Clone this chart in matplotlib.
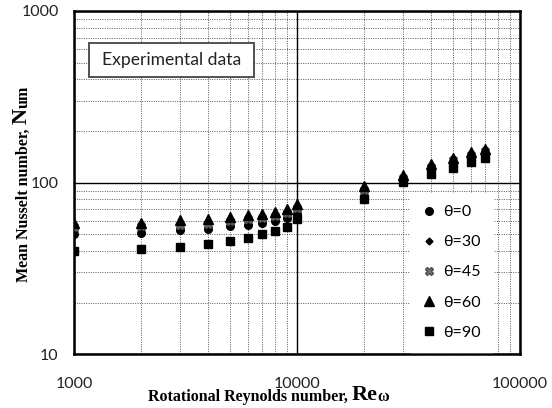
import matplotlib
matplotlib.use('Agg')
import matplotlib.pyplot as plt
from matplotlib.patches import Rectangle
from matplotlib.ticker import FixedLocator, FixedFormatter, NullFormatter, LogLocator

# --- data ---
re_omega = [1000, 2000, 3000, 4000, 5000, 6000, 7000, 8000, 9000, 10000,
            20000, 30000, 40000, 50000, 60000, 70000]
nu_theta0 = [50, 50.8, 53, 53.5, 56, 57, 58, 60, 62, 66, 83, 103, 118, 130, 140, 148]
nu_theta30 = [52, 53, 55, 55.5, 58, 59, 60, 62, 64.5, 68, 86, 104, 120, 132, 142, 150]
nu_theta45 = [55, 56, 57, 57.5, 60, 61, 62.5, 64, 67, 71, 90.5, 106, 123, 135, 145, 153]
nu_theta60 = [58, 58.5, 60.5, 61, 63.5, 64.5, 66, 67.5, 70.5, 75, 95, 111, 128, 140, 150, 157]
nu_theta90 = [40, 41.2, 42.3, 44, 45.6, 47.5, 50, 52, 55, 61.5, 80, 101, 112, 121, 132.5, 140]

x_ticks = [1000, 10000, 100000]
x_labels = ['1000', '10000', '100000']
y_ticks = [10, 100, 1000]
y_labels = ['10', '100', '1000']

sans = 'Lato'
serif = 'Liberation Serif'

fig = plt.figure(figsize=(5.52, 4.08), dpi=100)
ax = fig.add_axes([74 / 552, 1 - 354.3 / 408, 446 / 552, 343.3 / 408])
ax.set_xscale('log')
ax.set_yscale('log')
ax.set_xlim(1000, 100000)
ax.set_ylim(10, 1000)

# grid: solid at decades, dotted in between
ax.xaxis.set_major_locator(FixedLocator(x_ticks))
ax.yaxis.set_major_locator(FixedLocator(y_ticks))
ax.xaxis.set_minor_locator(LogLocator(base=10, subs=range(2, 10)))
ax.yaxis.set_minor_locator(LogLocator(base=10, subs=range(2, 10)))
ax.xaxis.set_major_formatter(FixedFormatter(x_labels))
ax.yaxis.set_major_formatter(FixedFormatter(y_labels))
ax.xaxis.set_minor_formatter(NullFormatter())
ax.yaxis.set_minor_formatter(NullFormatter())
ax.grid(True, which='major', color='black', linewidth=1.0, linestyle='-')
ax.grid(True, which='minor', color='#444444', linewidth=0.6, linestyle=(0, (1.2, 1.6)))
ax.set_axisbelow(True)
ax.tick_params(which='both', length=0)
ax.tick_params(axis='x', pad=16, labelsize=11.5, labelcolor='#222222')
ax.tick_params(axis='y', pad=11, labelsize=11.5, labelcolor='#222222')
for lab in ax.get_xticklabels() + ax.get_yticklabels():
    lab.set_fontfamily(sans)
for sp in ax.spines.values():
    sp.set_linewidth(1.8)
    sp.set_color('black')

ax.plot(re_omega, nu_theta0, 'o', color='black', ms=5.5, label='θ=0', zorder=3)
ax.plot(re_omega, nu_theta30, 'D', color='black', ms=3.5, label='θ=30', zorder=3)
ax.plot(re_omega, nu_theta45, 'X', color='#707070', mec='#505050', ms=6, label='θ=45', zorder=3)
ax.plot(re_omega, nu_theta60, '^', color='black', ms=6.5, label='θ=60', zorder=3)
ax.plot(re_omega, nu_theta90, 's', color='black', ms=5.5, label='θ=90', zorder=3)

leg = ax.legend(loc='upper left', bbox_to_anchor=(410 / 552, 1 - 193 / 408),
                bbox_transform=fig.transFigure, frameon=True, fancybox=False,
                facecolor='white', edgecolor='white', framealpha=1,
                prop={'family': sans, 'size': 11.5}, labelspacing=1.0,
                handlelength=0.9, handletextpad=0.45, borderpad=0.75,
                borderaxespad=0)
leg.set_zorder(5)

# "Experimental data" box
fig.add_artist(Rectangle((89 / 552, 1 - 77 / 408), 165 / 552, 34 / 408,
                         transform=fig.transFigure, facecolor='white',
                         edgecolor='#444444', linewidth=1.3, zorder=6))
fig.text(171.5 / 552, 1 - 60 / 408, 'Experimental data', ha='center', va='center',
         fontsize=12.6, family=sans, color='#222222', zorder=7)

# axis labels in bold serif, with a larger symbol part
xl = fig.text(148 / 552, 1 - 405 / 408, 'Rotational Reynolds number, ',
              ha='left', va='bottom', fontsize=11.5, family=serif, weight='bold')
xr = ax.annotate('Re', xy=(1, 0), xycoords=xl, ha='left', va='bottom',
                 fontsize=16, family=serif, weight='bold')
ax.annotate('ω', xy=(1, 0), xycoords=xr, ha='left', va='bottom',
            fontsize=11.5, family=serif, weight='bold', annotation_clip=False)

yl = fig.text(32 / 552, 1 - 282 / 408, 'Mean Nusselt number, ', rotation=90,
              ha='right', va='bottom', fontsize=11.5, family=serif, weight='bold')
yn = ax.annotate('N', xy=(1, 1), xycoords=yl, ha='right', va='bottom', rotation=90,
                 fontsize=16, family=serif, weight='bold')
ax.annotate('um', xy=(1, 1), xycoords=yn, ha='right', va='bottom', rotation=90,
            fontsize=11.5, family=serif, weight='bold', annotation_clip=False)

fig.savefig('out.png', dpi=100)
